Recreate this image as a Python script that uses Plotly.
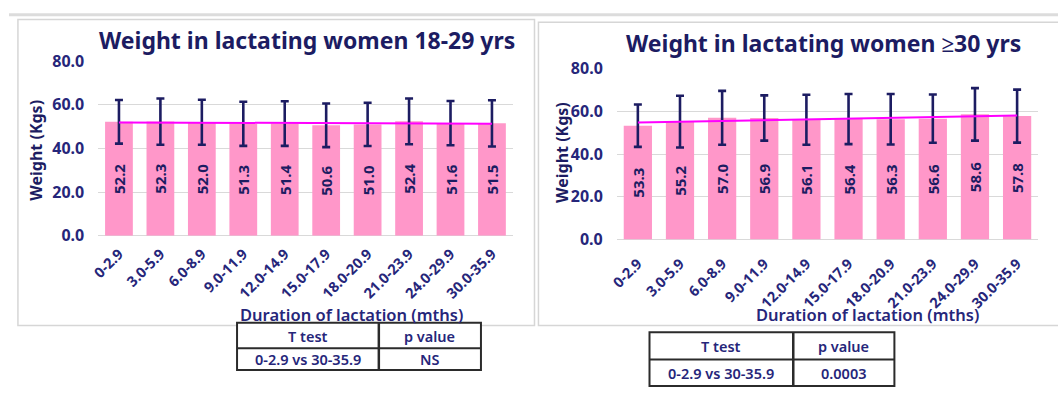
import numpy as np
import plotly.graph_objects as go

# ---- data ----
durations = ["0-2.9", "3.0-5.9", "6.0-8.9", "9.0-11.9", "12.0-14.9",
             "15.0-17.9", "18.0-20.9", "21.0-23.9", "24.0-29.9", "30.0-35.9"]

weight_18_29 = [52.2, 52.3, 52.0, 51.3, 51.4, 50.6, 51.0, 52.4, 51.6, 51.5]
sd_18_29 = [10.0, 10.6, 10.3, 10.1, 10.2, 10.0, 9.9, 10.5, 10.1, 10.6]

weight_30_plus = [53.3, 55.2, 57.0, 56.9, 56.1, 56.4, 56.3, 56.6, 58.6, 57.8]
sd_30_plus = [9.9, 12.1, 12.6, 10.6, 11.7, 11.7, 11.8, 11.3, 12.3, 12.4]

titles = ["Weight in lactating women 18-29 yrs", "Weight in lactating women \u226530 yrs"]
y_title = "Weight (Kgs)"
x_title = "Duration of lactation (mths)"

table_header = ["T test", "p value"]
table_comparison = "0-2.9 vs 30-35.9"
p_values = ["NS", "0.0003"]

# ---- style ----
W, H = 1058, 398
FONT = "Noto Sans"
NAVY = "#1c1c62"
TEXT2 = "#26267a"
PINK = "#ff97c9"
MAGENTA = "#ff00ff"
GRID = "#d9d9d9"
PANEL = "#d6d6d6"


def px(x):
    return x / W


def py(y):
    return 1 - y / H


def trend(values):
    idx = np.arange(len(values))
    slope, icpt = np.polyfit(idx, values, 1)
    return slope * idx + icpt


fig = go.Figure()

panels = [
    dict(vals=weight_18_29, sd=sd_18_29, xa="x", ya="y", standoff=6),
    dict(vals=weight_30_plus, sd=sd_30_plus, xa="x2", ya="y2", standoff=12),
]

for p in panels:
    fig.add_trace(go.Bar(
        x=durations, y=p["vals"], xaxis=p["xa"], yaxis=p["ya"],
        marker=dict(color=PINK, line=dict(width=0)),
        error_y=dict(type="data", array=p["sd"], visible=True,
                     color=NAVY, thickness=2.6, width=4),
        text=[f"{v:.1f}" for v in p["vals"]],
        texttemplate="%{text}",
        textposition="inside", insidetextanchor="middle", textangle=-90,
        textfont=dict(family=FONT, size=15, color=NAVY, weight="bold"),
        constraintext="none",
        showlegend=False, hoverinfo="skip",
    ))
    fig.add_trace(go.Scatter(
        x=durations, y=trend(p["vals"]), xaxis=p["xa"], yaxis=p["ya"],
        mode="lines", line=dict(color=MAGENTA, width=2),
        showlegend=False, hoverinfo="skip",
    ))

axis_common_x = dict(
    type="category", tickangle=-45, showgrid=False, zeroline=False,
    showline=False, ticks="",
    tickfont=dict(family=FONT, size=14.5, color=TEXT2, weight="bold"),
)
axis_common_y = dict(
    range=[0, 80], dtick=20, tickformat=".1f", showgrid=True,
    gridcolor=GRID, gridwidth=1.3, zeroline=True, zerolinecolor=GRID,
    zerolinewidth=1.3, showline=False, ticks="", ticklabelstandoff=13,
    tickfont=dict(family=FONT, size=16, color=TEXT2, weight="bold"),
)

fig.update_layout(
    width=W, height=H, margin=dict(l=0, r=0, t=0, b=0),
    paper_bgcolor="white", plot_bgcolor="white", bargap=0.33,
    xaxis=dict(domain=[px(90), px(508)], anchor="y",
               ticklabelstandoff=panels[0]["standoff"], **axis_common_x),
    yaxis=dict(domain=[py(238), py(53)], anchor="x", **axis_common_y),
    xaxis2=dict(domain=[px(613), px(1038)], anchor="y2",
                ticklabelstandoff=panels[1]["standoff"], **axis_common_x),
    yaxis2=dict(domain=[py(242), py(61)], anchor="x2", **axis_common_y),
)

shapes = []
# page rule across the top
shapes.append(dict(type="line", xref="paper", yref="paper",
                   x0=0, x1=1, y0=py(4), y1=py(4),
                   line=dict(color="#dcdcdc", width=3), layer="below"))
# chart frames
shapes.append(dict(type="rect", xref="paper", yref="paper",
                   x0=px(9), x1=px(530), y0=py(333), y1=py(9),
                   line=dict(color=PANEL, width=1.5), layer="below"))
shapes.append(dict(type="rect", xref="paper", yref="paper",
                   x0=px(534), x1=px(1062), y0=py(333), y1=py(12),
                   line=dict(color=PANEL, width=1.5), layer="below"))

annotations = []
# chart titles
for cx, cy, t in [(301, 31, titles[0]), (821, 34, titles[1])]:
    annotations.append(dict(text=t, x=px(cx), y=py(cy), xref="paper", yref="paper",
                            showarrow=False, xanchor="center", yanchor="middle",
                            font=dict(family=FONT, size=23, color=NAVY, weight="bold")))
# y axis titles
for cx, cy in [(27, 147), (557, 150)]:
    annotations.append(dict(text=y_title, x=px(cx), y=py(cy), xref="paper", yref="paper",
                            showarrow=False, textangle=-90, xanchor="center", yanchor="middle",
                            font=dict(family=FONT, size=16, color=NAVY, weight="bold")))
# x axis titles
for cx, cy in [(345, 321), (866, 321)]:
    annotations.append(dict(text=x_title, x=px(cx), y=py(cy), xref="paper", yref="paper",
                            showarrow=False, xanchor="center", yanchor="middle",
                            font=dict(family=FONT, size=16.5, color=TEXT2, weight=600)))

# t-test tables
tables = [
    dict(x0=230, xm=373, x1=476, y0=330, ym=357, y1=380, p=p_values[0]),
    dict(x0=646, xm=791, x1=893, y0=340, ym=369, y1=397, p=p_values[1]),
]
for tb in tables:
    shapes.append(dict(type="rect", xref="paper", yref="paper",
                       x0=px(tb["x0"]), x1=px(tb["x1"]), y0=py(tb["y1"]), y1=py(tb["y0"]),
                       line=dict(color="#2b2b2b", width=2), fillcolor="white"))
    shapes.append(dict(type="line", xref="paper", yref="paper",
                       x0=px(tb["x0"]), x1=px(tb["x1"]), y0=py(tb["ym"]), y1=py(tb["ym"]),
                       line=dict(color="#2b2b2b", width=2)))
    shapes.append(dict(type="line", xref="paper", yref="paper",
                       x0=px(tb["xm"]), x1=px(tb["xm"]), y0=py(tb["y0"]), y1=py(tb["y1"]),
                       line=dict(color="#2b2b2b", width=2.5)))
    cells = [
        (table_header[0], (tb["x0"] + tb["xm"]) / 2, (tb["y0"] + tb["ym"]) / 2),
        (table_header[1], (tb["xm"] + tb["x1"]) / 2, (tb["y0"] + tb["ym"]) / 2),
        (table_comparison, (tb["x0"] + tb["xm"]) / 2, (tb["ym"] + tb["y1"]) / 2),
        (tb["p"], (tb["xm"] + tb["x1"]) / 2, (tb["ym"] + tb["y1"]) / 2),
    ]
    for txt, cx, cy in cells:
        annotations.append(dict(text=txt, x=px(cx), y=py(cy), xref="paper", yref="paper",
                                showarrow=False, xanchor="center", yanchor="middle",
                                font=dict(family=FONT, size=14.5, color=TEXT2, weight=600)))

fig.update_layout(shapes=shapes, annotations=annotations)

fig.write_html("out.html")
